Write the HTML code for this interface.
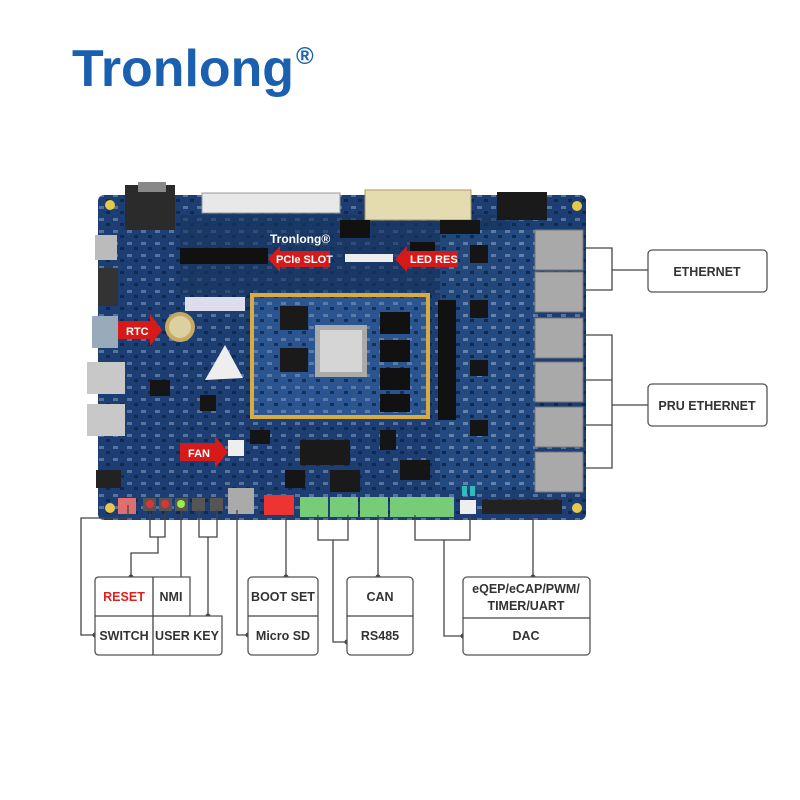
<!DOCTYPE html>
<html><head><meta charset="utf-8"><style>
body{margin:0;background:#fff;}
svg{display:block;font-family:"Liberation Sans",sans-serif;}
.bx{fill:#fff;stroke:#555;stroke-width:1.3;}
.ln{stroke:#444;stroke-width:1.3;fill:none;}
.t{font-size:12.5px;font-weight:bold;fill:#333;text-anchor:middle;}
.lab{font-size:11px;font-weight:bold;fill:#fff;}
</style></head><body>
<svg width="800" height="800" viewBox="0 0 800 800">
<defs>
<pattern id="cmp" width="14" height="12" patternUnits="userSpaceOnUse">
<rect x="1" y="2" width="5" height="3" fill="#7f95b8" opacity=".6"/>
<rect x="8" y="7" width="4" height="3" fill="#0e1f3c" opacity=".7"/>
</pattern>
</defs>
<text x="72" y="86" font-size="52" font-weight="bold" fill="#1a5fb0" textLength="222" lengthAdjust="spacingAndGlyphs">Tronlong</text>
<text x="296" y="64" font-size="24" font-weight="bold" fill="#1a5fb0">®</text>

<!-- board -->
<rect x="98" y="195" width="488" height="325" rx="6" fill="#1c3e72"/>
<rect x="98" y="195" width="488" height="325" rx="6" fill="url(#cmp)"/>
<rect x="180" y="215" width="330" height="80" fill="#17355f" opacity=".6"/>
<rect x="440" y="230" width="95" height="260" fill="#2a568f" opacity=".5"/>
<rect x="440" y="230" width="95" height="260" fill="url(#cmp)"/>
<circle cx="110" cy="205" r="5" fill="#e6c84a"/><circle cx="577" cy="206" r="5" fill="#e6c84a"/>
<circle cx="110" cy="508" r="5" fill="#e6c84a"/><circle cx="577" cy="508" r="5" fill="#e6c84a"/>
<!-- top connectors -->
<rect x="125" y="185" width="50" height="45" fill="#2b2b2b"/><rect x="138" y="182" width="28" height="10" fill="#888"/>
<rect x="202" y="193" width="138" height="20" fill="#e8e8e8" stroke="#999"/>
<rect x="365" y="190" width="106" height="30" fill="#e5dbb0" stroke="#a89a60"/>
<rect x="497" y="192" width="50" height="28" fill="#1a1a1a"/>
<!-- PCIe -->
<rect x="180" y="248" width="88" height="16" fill="#111"/>
<rect x="345" y="254" width="48" height="8" fill="#eee"/>
<rect x="185" y="297" width="60" height="14" fill="#dde"/>
<!-- left IO -->
<rect x="95" y="235" width="22" height="25" fill="#bbb"/>
<rect x="98" y="268" width="20" height="38" fill="#333"/>
<rect x="92" y="316" width="26" height="32" fill="#9ab"/>
<rect x="87" y="362" width="38" height="32" fill="#c8c8c8"/>
<rect x="87" y="404" width="38" height="32" fill="#c8c8c8"/>
<rect x="96" y="470" width="25" height="18" fill="#222"/>
<circle cx="180" cy="327" r="15" fill="#c9a860"/><circle cx="180" cy="327" r="11" fill="#ddd0a0"/>
<polygon points="205,380 225,345 243,378" fill="#eee"/>
<!-- extra chips -->
<g fill="#151515">
<rect x="150" y="380" width="20" height="16"/><rect x="250" y="430" width="20" height="14"/><rect x="470" y="245" width="18" height="18"/>
<rect x="470" y="300" width="18" height="18"/><rect x="470" y="360" width="18" height="16"/><rect x="470" y="420" width="18" height="16"/>
<rect x="380" y="430" width="16" height="20"/><rect x="285" y="470" width="20" height="18"/><rect x="400" y="460" width="30" height="20"/>
<rect x="200" y="395" width="16" height="16"/><rect x="440" y="220" width="40" height="14"/>
</g>
<!-- core module -->
<rect x="250" y="293" width="180" height="126" fill="#d8ac40"/>
<rect x="254" y="297" width="172" height="118" fill="#2a5590"/>
<rect x="254" y="297" width="172" height="118" fill="url(#cmp)"/>
<rect x="315" y="325" width="52" height="52" fill="#aaa"/><rect x="320" y="330" width="42" height="42" fill="#d5d5d5"/>
<rect x="280" y="306" width="28" height="24" fill="#1a1a1a"/><rect x="280" y="348" width="28" height="24" fill="#1a1a1a"/>
<rect x="380" y="312" width="30" height="22" fill="#111"/><rect x="380" y="340" width="30" height="22" fill="#111"/>
<rect x="380" y="368" width="30" height="22" fill="#111"/><rect x="380" y="394" width="30" height="18" fill="#111"/>
<rect x="438" y="300" width="18" height="120" fill="#111"/>
<!-- misc chips -->
<rect x="410" y="242" width="25" height="18" fill="#111"/><rect x="340" y="220" width="30" height="18" fill="#111"/>
<rect x="300" y="440" width="50" height="25" fill="#1a1a1a"/><rect x="330" y="470" width="30" height="22" fill="#1a1a1a"/>
<rect x="180" y="448" width="12" height="10" fill="#e8c040"/><rect x="228" y="440" width="16" height="16" fill="#eee"/>
<!-- RJ45 -->
<g fill="#a9a9a9" stroke="#777">
<rect x="535" y="230" width="48" height="40"/><rect x="535" y="272" width="48" height="40"/>
<rect x="535" y="318" width="48" height="40"/><rect x="535" y="362" width="48" height="40"/>
<rect x="535" y="407" width="48" height="40"/><rect x="535" y="452" width="48" height="40"/>
</g>
<!-- bottom components -->
<rect x="118" y="498" width="18" height="16" fill="#e07070"/>
<rect x="143" y="498" width="13" height="13" fill="#555"/><circle cx="150" cy="504" r="4" fill="#d33"/>
<rect x="159" y="498" width="13" height="13" fill="#555"/><circle cx="165" cy="504" r="4" fill="#d33"/>
<rect x="175" y="498" width="13" height="13" fill="#555"/><circle cx="181" cy="504" r="4" fill="#9e4"/>
<rect x="192" y="498" width="13" height="13" fill="#555"/><rect x="210" y="498" width="13" height="13" fill="#555"/>
<rect x="228" y="488" width="26" height="26" fill="#aaa"/>
<rect x="264" y="495" width="30" height="20" fill="#e33"/>
<rect x="300" y="497" width="28" height="20" fill="#7c7"/><rect x="330" y="497" width="28" height="20" fill="#7c7"/>
<rect x="360" y="497" width="28" height="20" fill="#7c7"/><rect x="390" y="497" width="64" height="20" fill="#7c7"/>
<rect x="460" y="500" width="16" height="14" fill="#eee"/>
<rect x="482" y="500" width="80" height="14" fill="#222"/>
<rect x="462" y="486" width="5" height="10" fill="#3bb"/><rect x="470" y="486" width="5" height="10" fill="#3bb"/>

<!-- red arrows -->
<g fill="#d61a1a">
<polygon points="268,259 280,246 280,251 330,251 330,267 280,267 280,272"/>
<polygon points="395,259 407,246 407,251 458,251 458,267 407,267 407,272"/>
<polygon points="118,321 150,321 150,314 162,330 150,346 150,339 118,339"/>
<polygon points="180,443 215,443 215,436 228,452 215,468 215,461 180,461"/>
</g>
<text x="276" y="263" class="lab">PCIe SLOT</text>
<text x="410" y="263" class="lab">LED RES</text>
<text x="126" y="335" class="lab">RTC</text>
<text x="188" y="457" class="lab">FAN</text>
<text x="270" y="243" font-size="12" font-weight="bold" fill="#fff">Tronlong®</text>

<!-- right connectors -->
<path class="ln" d="M584,248 H612 V290 H584 M612,270 H648"/>
<path class="ln" d="M584,335 H612 V468 H584 M584,380 H612 M584,425 H612 M612,405 H648"/>
<rect class="bx" x="648" y="250" width="119" height="42" rx="4"/>
<text class="t" x="707" y="276">ETHERNET</text>
<rect class="bx" x="648" y="384" width="119" height="42" rx="4"/>
<text class="t" x="707" y="410">PRU ETHERNET</text>

<!-- bottom connectors -->
<g class="ln">
<path d="M128,505 V518 H81 V635 H95"/>
<path d="M150,510 V537 H165 V510 M158,537 V553 H131 V577"/>
<path d="M181,510 V577"/>
<path d="M199,510 V537 H217 V510 M208,537 V616"/>
<path d="M237,510 V635 H248"/>
<path d="M286,515 V577"/>
<path d="M318,515 V540 H348 V515 M333,540 V642 H347"/>
<path d="M378,515 V577"/>
<path d="M415,515 V540 H470 V515 M444,540 V636 H463"/>
<path d="M533,515 V577"/>
</g>
<g fill="#444">
<circle cx="131" cy="577" r="2.5"/><circle cx="95" cy="635" r="2.5"/><circle cx="208" cy="616" r="2.5"/>
<circle cx="248" cy="635" r="2.5"/><circle cx="286" cy="577" r="2.5"/><circle cx="347" cy="642" r="2.5"/>
<circle cx="378" cy="577" r="2.5"/><circle cx="463" cy="636" r="2.5"/><circle cx="533" cy="577" r="2.5"/>
</g>

<!-- box 1 -->
<path class="bx" d="M99,577 H190 V616 H222 V651 Q222,655 218,655 H99 Q95,655 95,651 V581 Q95,577 99,577 Z"/>
<path class="ln" d="M95,616 H190 M153,577 V655"/>
<text class="t" x="124" y="601" style="fill:#e02020">RESET</text>
<text class="t" x="171" y="601">NMI</text>
<text class="t" x="124" y="640">SWITCH</text>
<text class="t" x="187" y="640">USER KEY</text>
<!-- boot -->
<rect class="bx" x="248" y="577" width="70" height="78" rx="4"/>
<path class="ln" d="M248,616 H318"/>
<text class="t" x="283" y="601">BOOT SET</text>
<text class="t" x="283" y="640">Micro SD</text>
<!-- can -->
<rect class="bx" x="347" y="577" width="66" height="78" rx="4"/>
<path class="ln" d="M347,616 H413"/>
<text class="t" x="380" y="601">CAN</text>
<text class="t" x="380" y="640">RS485</text>
<!-- dac -->
<rect class="bx" x="463" y="577" width="127" height="78" rx="4"/>
<path class="ln" d="M463,618 H590"/>
<text class="t" x="526" y="593">eQEP/eCAP/PWM/</text>
<text class="t" x="526" y="610">TIMER/UART</text>
<text class="t" x="526" y="640">DAC</text>
</svg>
</body></html>
